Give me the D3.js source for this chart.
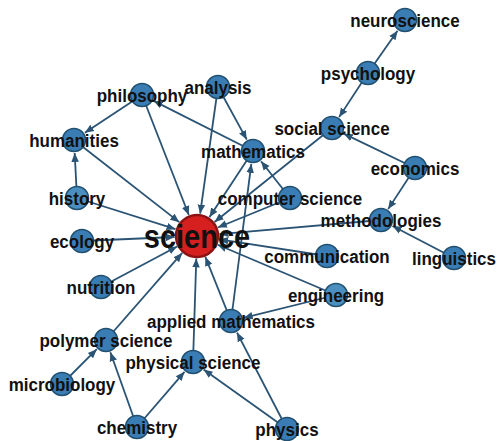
<!DOCTYPE html>
<html lang="en">
<head>
<meta charset="utf-8">
<title>science network</title>
<script src="https://d3js.org/d3.v7.min.js"></script>
<style>
  body{margin:0;background:#fff;}
  text{font-family:"Liberation Sans",Arial,sans-serif;fill:#111;font-weight:bold;}
</style>
</head>
<body>
<div id="chart"></div>
<script>
// node names and where they sit in the layout
var names = ["science","neuroscience","psychology","social science","economics","methodologies",
  "linguistics","communication","engineering","computer science","mathematics","analysis",
  "philosophy","humanities","history","ecology","nutrition","polymer science","microbiology",
  "chemistry","physical science","applied mathematics","physics"]
var nodeX = [197,405,368,332,415,381,454,327,336,290,253,218,142,74,77,82,101,106,62,137,193,231,287]
var nodeY = [236,20,73,128,168,220,258,256,295,198,151,87,95,140,198,241,287,340,384,427,362,321,429]

// links: source -> target
var linkSource = ["psychology","psychology","economics","economics","linguistics","methodologies",
  "communication","engineering","engineering","computer science","computer science","social science",
  "mathematics","mathematics","analysis","analysis","philosophy","philosophy","humanities","history",
  "history","ecology","nutrition","polymer science","microbiology","chemistry","chemistry","physics",
  "physics","physical science","applied mathematics","applied mathematics"]
var linkTarget = ["neuroscience","social science","social science","methodologies","methodologies","science",
  "science","science","applied mathematics","mathematics","science","science",
  "science","philosophy","mathematics","science","humanities","science","science","humanities",
  "science","science","science","science","polymer science","polymer science","physical science","physical science",
  "applied mathematics","science","science","mathematics"]

var lighter = ["history","engineering"]

var w = 500, h = 441

var xScale = d3.scaleLinear().domain([0,500]).range([0,w])
var yScale = d3.scaleLinear().domain([0,441]).range([0,h])

var nodes = names.map(function(n,i){
  return {name:n, x:xScale(nodeX[i]), y:yScale(nodeY[i]), r: n=="science" ? 21 : 11.5}
})
var byName = {}
nodes.forEach(function(d){ byName[d.name] = d })
var links = linkSource.map(function(s,i){
  return {source:byName[s], target:byName[linkTarget[i]]}
})

var svg = d3.select("#chart").append("svg")
  .attr("width",w).attr("height",h)

svg.append("defs").append("marker")
  .attr("id","arrow")
  .attr("viewBox","0 -5 10 10")
  .attr("refX",10).attr("refY",0)
  .attr("markerWidth",9).attr("markerHeight",9)
  .attr("markerUnits","userSpaceOnUse")
  .attr("orient","auto")
  .append("path")
  .attr("d","M0,-4.2L10,0L0,4.2Z")
  .attr("fill","#2a5374")

svg.selectAll("line")
  .data(links)
  .enter()
  .append("line")
  .attr("x1",function(d){ return d.source.x })
  .attr("y1",function(d){ return d.source.y })
  .attr("x2",function(d){
    var dx = d.target.x-d.source.x, dy = d.target.y-d.source.y
    var len = Math.sqrt(dx*dx+dy*dy)
    return d.target.x - dx/len*(d.target.r+1.5)
  })
  .attr("y2",function(d){
    var dx = d.target.x-d.source.x, dy = d.target.y-d.source.y
    var len = Math.sqrt(dx*dx+dy*dy)
    return d.target.y - dy/len*(d.target.r+1.5)
  })
  .attr("stroke","#2a5374")
  .attr("stroke-width",1.8)
  .attr("marker-end","url(#arrow)")

svg.selectAll("circle")
  .data(nodes)
  .enter()
  .append("circle")
  .attr("cx",function(d){ return d.x })
  .attr("cy",function(d){ return d.y })
  .attr("r",function(d){ return d.r })
  .attr("fill",function(d){
    if(d.name=="science") return "#d61f1f"
    return lighter.indexOf(d.name)>=0 ? "#4b8fc0" : "#3a7db5"
  })
  .attr("stroke",function(d){ return d.name=="science" ? "#8a1414" : "#22506f" })
  .attr("stroke-width",function(d){ return d.name=="science" ? 2.5 : 1.5 })

// labels sit on top of the circles, a bit taller than wide like the original
svg.selectAll("text")
  .data(nodes)
  .enter()
  .append("text")
  .attr("transform",function(d){ return "translate("+d.x+","+d.y+") scale(1,1.12)" })
  .attr("dy","0.36em")
  .attr("text-anchor","middle")
  .style("font-size",function(d){ return d.name=="science" ? "29px" : "17px" })
  .text(function(d){ return d.name })
</script>
</body>
</html>
